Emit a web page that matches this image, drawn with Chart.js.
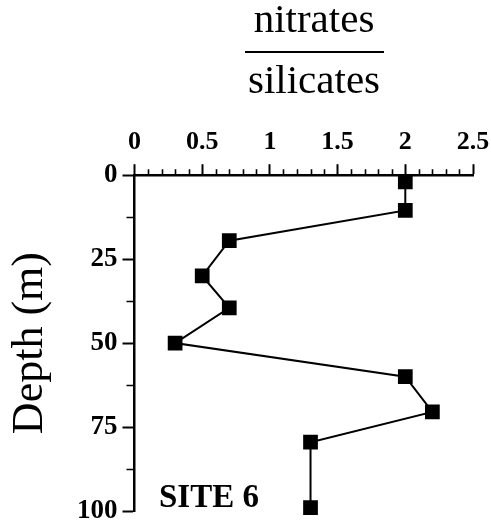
<!DOCTYPE html>
<html>
<head>
<meta charset="utf-8">
<title>nitrates / silicates - site 6</title>
<script src="https://cdn.jsdelivr.net/npm/chart.js@4.4.1/dist/chart.umd.min.js"></script>
<style>
  html, body { margin: 0; padding: 0; background: #fff; }
  #wrap { position: relative; width: 491px; height: 525px; }
</style>
</head>
<body>
<div id="wrap"><canvas id="profile"></canvas></div>
<script>
// profile values, site 6
const ratio = [2.0, 2.0, 0.7, 0.5, 0.7, 0.3, 2.0, 2.2, 1.3, 1.3];
const depth = [2, 10.5, 19.5, 30, 39.5, 50, 60, 70.5, 79.5, 99];

const ratioMinorTicks = [0.1, 0.2, 0.3, 0.4, 0.6, 0.7, 0.8, 0.9, 1.1, 1.2, 1.3, 1.4,
                         1.6, 1.7, 1.8, 1.9, 2.1, 2.2, 2.3, 2.4];
const depthMinorTicks = [12.5, 37.5, 62.5, 87.5];

const topLabel = 'nitrates';
const bottomLabel = 'silicates';
const siteLabel = 'SITE 6';

const SERIF = '"Liberation Serif", "Times New Roman", serif';

const points = ratio.map((r, i) => ({ x: r, y: depth[i] }));

// short ticks between the labelled ones + the fraction title and site tag
const extras = {
  id: 'extras',
  afterDraw(chart) {
    const ctx = chart.ctx;
    const xs = chart.scales.x, ys = chart.scales.y;
    const area = chart.chartArea;
    ctx.save();
    ctx.strokeStyle = '#000';
    ctx.lineWidth = 1.6;
    ctx.beginPath();
    ratioMinorTicks.forEach(v => {
      const px = Math.round(xs.getPixelForValue(v)) + 0.5;
      ctx.moveTo(px, area.top);
      ctx.lineTo(px, area.top - 6);
    });
    depthMinorTicks.forEach(v => {
      const py = Math.round(ys.getPixelForValue(v)) + 0.5;
      ctx.moveTo(area.left, py);
      ctx.lineTo(area.left - 8, py);
    });
    ctx.stroke();

    // fraction title
    const cx = 314;
    ctx.fillStyle = '#000';
    ctx.textAlign = 'center';
    ctx.textBaseline = 'alphabetic';
    ctx.font = '41px ' + SERIF;
    ctx.fillText(topLabel, cx, 32);
    ctx.fillText(bottomLabel, cx, 93);
    ctx.lineWidth = 2;
    ctx.beginPath();
    ctx.moveTo(245, 52);
    ctx.lineTo(384, 52);
    ctx.stroke();

    ctx.textAlign = 'left';
    ctx.font = 'bold 33px ' + SERIF;
    ctx.fillText(siteLabel, 159, 507);
    ctx.restore();
  }
};

new Chart(document.getElementById('profile'), {
  type: 'scatter',
  data: {
    datasets: [{
      data: points,
      showLine: true,
      borderColor: '#000',
      borderWidth: 2,
      backgroundColor: '#000',
      pointStyle: 'rect',
      pointRadius: 9,
      pointHoverRadius: 9,
      clip: false
    }]
  },
  options: {
    responsive: true,
    maintainAspectRatio: false,
    animation: false,
    devicePixelRatio: 1,
    layout: { padding: { top: 121, left: 8, right: 18, bottom: 0 } },
    plugins: {
      legend: { display: false },
      tooltip: { enabled: false }
    },
    scales: {
      x: {
        type: 'linear',
        position: 'top',
        min: 0,
        max: 2.5,
        afterFit: s => { s.paddingRight = 0; },
        ticks: {
          stepSize: 0.5,
          color: '#000',
          padding: 6,
          maxRotation: 0,
          font: { family: SERIF, size: 26, weight: 'bold' },
          callback: v => String(v)
        },
        grid: {
          drawOnChartArea: false,
          drawTicks: true,
          tickLength: 11,
          tickWidth: 2,
          tickColor: '#000'
        },
        border: { display: true, color: '#000', width: 2.5 }
      },
      y: {
        type: 'linear',
        reverse: true,
        min: 0,
        max: 100,
        afterFit: s => { s.paddingBottom = 14; },
        ticks: {
          stepSize: 25,
          color: '#000',
          padding: 5,
          font: { family: SERIF, size: 27, weight: 'bold' }
        },
        grid: {
          drawOnChartArea: false,
          drawTicks: true,
          tickLength: 12,
          tickWidth: 2,
          tickColor: '#000'
        },
        border: { display: true, color: '#000', width: 2.5 },
        title: {
          display: true,
          text: 'Depth (m)',
          color: '#000',
          font: { family: SERIF, size: 44, lineHeight: 1 },
          padding: { top: 0, bottom: 20 }
        }
      }
    }
  },
  plugins: [extras]
});
</script>
</body>
</html>
